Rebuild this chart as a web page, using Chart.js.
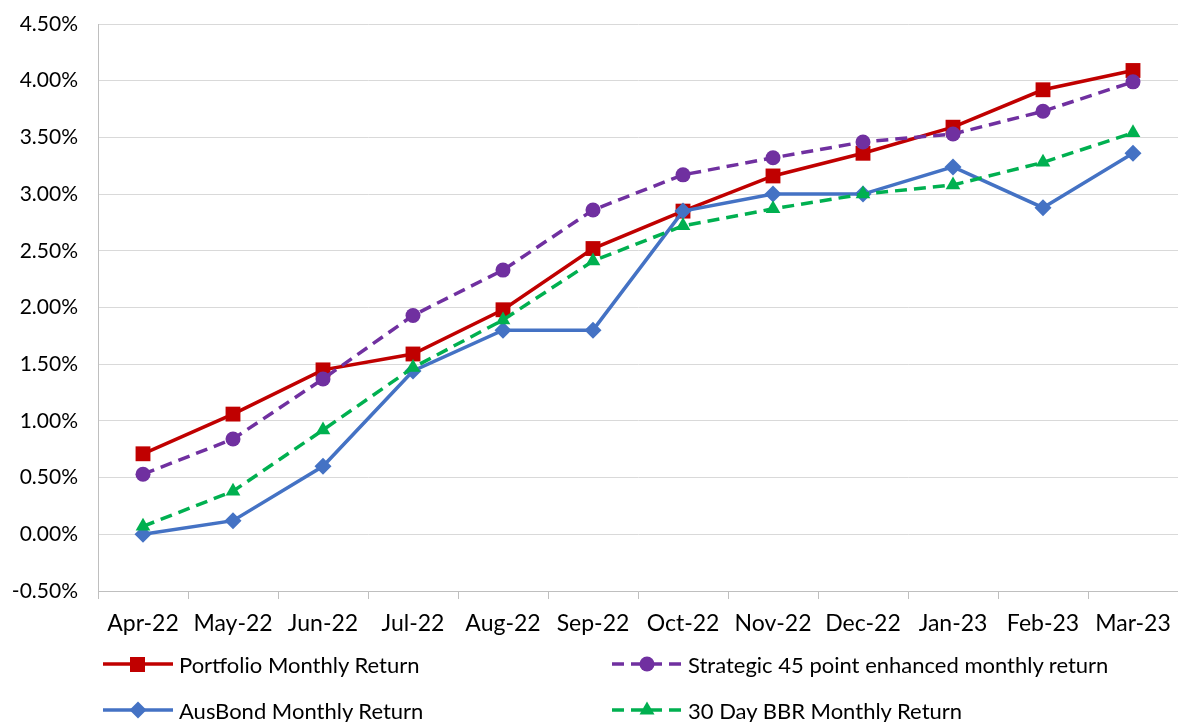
<!DOCTYPE html>
<html>
<head>
<meta charset="utf-8">
<script src="https://cdn.jsdelivr.net/npm/chart.js@4/dist/chart.umd.min.js"></script>
<style>
  html, body { margin: 0; padding: 0; background: #fff; }
  #wrap { position: relative; width: 1178px; height: 722px; overflow: hidden; }
  #grafico { position: absolute; left: 0; top: 0; }
  #leyenda { position: absolute; left: 0; top: 0; width: 1178px; height: 722px; pointer-events: none;
             font-family: Lato, "Open Sans", sans-serif; font-size: 22px; color: #000; }
  .item { position: absolute; display: flex; align-items: center; height: 30px; white-space: nowrap; }
  .item svg { margin-right: 6px; }
</style>
</head>
<body>
<div id="wrap">
  <canvas id="grafico" width="1178" height="722"></canvas>
  <div id="leyenda"></div>
</div>
<script>
const meses = ["Apr-22", "May-22", "Jun-22", "Jul-22", "Aug-22", "Sep-22", "Oct-22", "Nov-22", "Dec-22", "Jan-23", "Feb-23", "Mar-23"];
const portfolio = [0.71, 1.06, 1.45, 1.59, 1.98, 2.52, 2.85, 3.16, 3.36, 3.59, 3.92, 4.09];
const strategic = [0.53, 0.84, 1.37, 1.93, 2.33, 2.86, 3.17, 3.32, 3.46, 3.53, 3.73, 3.99];
const ausbond = [0.00, 0.12, 0.60, 1.44, 1.80, 1.80, 2.85, 3.00, 3.00, 3.24, 2.88, 3.36];
const bbr = [0.07, 0.38, 0.92, 1.47, 1.89, 2.41, 2.72, 2.87, 3.00, 3.08, 3.28, 3.54];

const yMin = -0.5, yMax = 4.5, yStep = 0.5;

const series = [
  { label: "Portfolio Monthly Return", data: portfolio, color: "#C00000", dash: [], point: "rect", radius: 10.5, order: 4, lx: 103, ly: 649 },
  { label: "Strategic 45 point enhanced monthly return", data: strategic, color: "#7030A0", dash: [12, 7], point: "circle", radius: 7.5, order: 3, lx: 612, ly: 649 },
  { label: "AusBond Monthly Return", data: ausbond, color: "#4472C4", dash: [], point: "rectRot", radius: 8.5, order: 2, lx: 103, ly: 695 },
  { label: "30 Day BBR Monthly Return", data: bbr, color: "#00B050", dash: [12, 7], point: "triangle", radius: 8.5, order: 1, lx: 612, ly: 695 }
];

const grafico = new Chart(document.getElementById("grafico"), {
  type: "line",
  data: {
    labels: meses,
    datasets: series.map(s => ({
      label: s.label,
      data: s.data,
      borderColor: s.color,
      backgroundColor: s.color,
      borderWidth: 3.5,
      borderDash: s.dash,
      tension: 0,
      fill: false,
      clip: false,
      pointStyle: s.point,
      pointRadius: s.radius,
      pointHoverRadius: s.radius,
      pointBackgroundColor: s.color,
      pointBorderColor: s.color,
      pointBorderWidth: 0,
      order: s.order
    }))
  },
  options: {
    responsive: false,
    animation: false,
    layout: { autoPadding: false, padding: { top: 24, right: 0, bottom: 71, left: 0 } },
    plugins: {
      legend: { display: false },
      tooltip: { enabled: false }
    },
    scales: {
      x: {
        offset: true,
        grid: { offset: true, drawOnChartArea: false, drawTicks: true, tickLength: 8, color: "#bfbfbf", lineWidth: 1 },
        border: { color: "#bfbfbf", width: 1 },
        ticks: { color: "#000", padding: 11, maxRotation: 0, autoSkip: false, font: { family: "Lato", size: 23 } },
        afterFit: scale => { scale.height = 60; scale.paddingLeft = 0; scale.paddingRight = 0; }
      },
      y: {
        min: yMin,
        max: yMax,
        grid: { color: "#d9d9d9", lineWidth: 1, drawTicks: false },
        border: { color: "#bfbfbf", width: 1 },
        ticks: {
          stepSize: yStep,
          color: "#000",
          padding: 20,
          font: { family: "Lato", size: 21 },
          callback: v => v.toFixed(2) + "%"
        },
        afterFit: scale => { scale.width = 98; scale.paddingTop = 0; scale.paddingBottom = 0; }
      }
    }
  }
});

// Leyenda en HTML, en dos columnas como la original
const leyenda = document.getElementById("leyenda");
series.forEach(s => {
  const item = document.createElement("div");
  item.className = "item";
  item.style.left = s.lx + "px";
  item.style.top = s.ly + "px";
  const dash = s.dash.length ? `stroke-dasharray="${s.dash.join(" ")}"` : "";
  let marca = "";
  if (s.point === "rect") marca = `<rect x="27" y="8" width="15" height="15" fill="${s.color}"/>`;
  else if (s.point === "circle") marca = `<circle cx="35" cy="15" r="7.5" fill="${s.color}"/>`;
  else if (s.point === "rectRot") marca = `<polygon points="35,6.5 43.5,15 35,23.5 26.5,15" fill="${s.color}"/>`;
  else marca = `<polygon points="35,6.5 42.5,19.5 27.5,19.5" fill="${s.color}"/>`;
  item.innerHTML = `<svg width="70" height="30"><line x1="0" y1="15" x2="70" y2="15" stroke="${s.color}" stroke-width="3.5" ${dash}/>${marca}</svg><span>${s.label}</span>`;
  leyenda.appendChild(item);
});
</script>
</body>
</html>
